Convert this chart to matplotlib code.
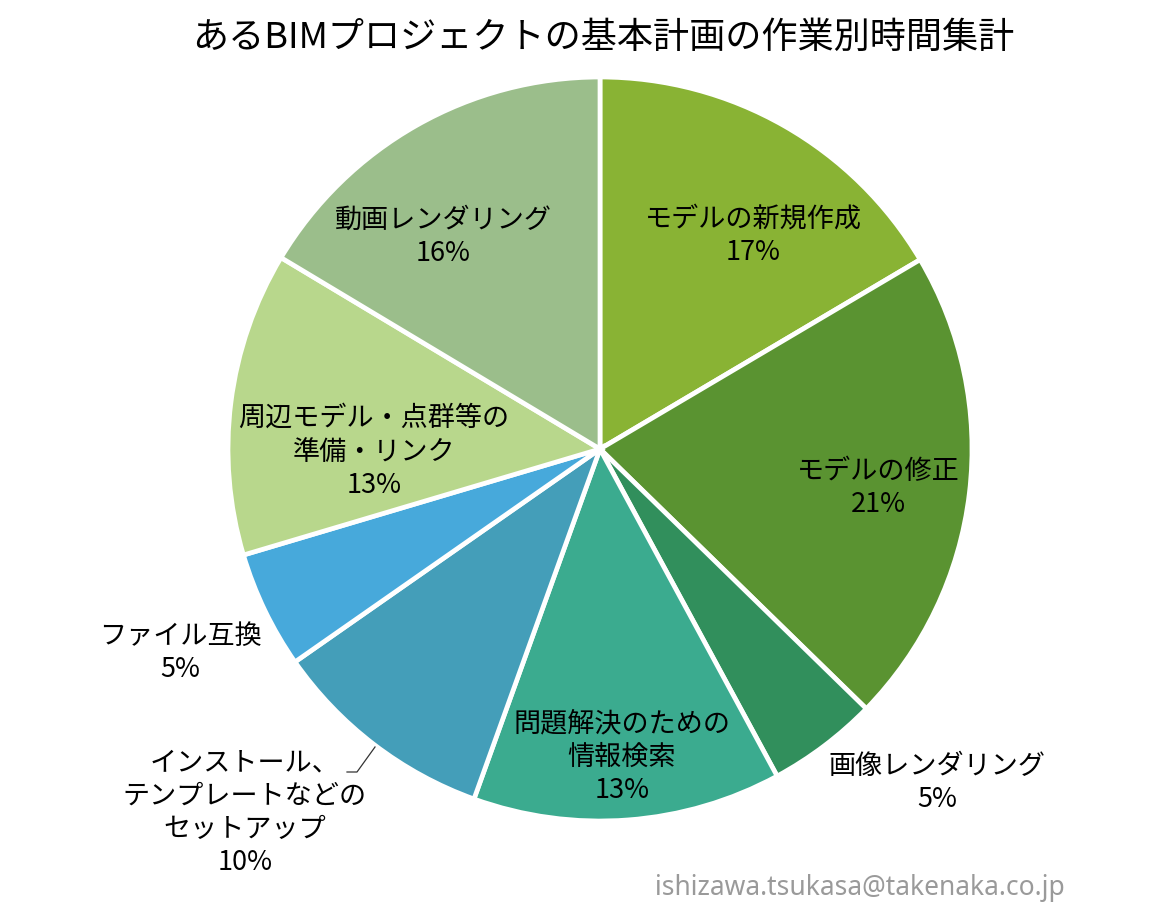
import matplotlib
matplotlib.use("Agg")
import matplotlib.pyplot as plt
import numpy as np

plt.rcParams['font.family'] = ['Noto Sans CJK JP', 'DejaVu Sans']

# ---- data ----
categories = ['モデルの新規作成', 'モデルの修正', '画像レンダリング',
              '問題解決のための\n情報検索',
              'インストール、\nテンプレートなどの\nセットアップ',
              'ファイル互換', '周辺モデル・点群等の\n準備・リンク', '動画レンダリング']
values = [16.5, 20.8, 4.8, 13.4, 9.8, 5.1, 13.2, 16.4]
pct_labels = ['17%', '21%', '5%', '13%', '10%', '5%', '13%', '16%']
colors = ['#89B334', '#5A9331', '#318F5C', '#3BAB8F', '#449EB9', '#47A9DB',
          '#B8D78C', '#9BBE8B']
title = 'あるBIMプロジェクトの基本計画の作業別時間集計'
watermark = 'ishizawa.tsukasa@takenaka.co.jp'

# ---- layout (pixels, figure 1169x911) ----
W, H = 1169, 911
cx, cy, R = 600, 449, 372
label_pos = [(753, 236), (878, 488), (937, 783), (622, 757), (245, 813),
             (180, 653), (374, 452), (443, 237)]

fig = plt.figure(figsize=(W / 100, H / 100), dpi=100)
ax = fig.add_axes([0, 0, 1, 1])

ax.pie(values, colors=colors, startangle=90, counterclock=False,
       center=(cx, H - cy), radius=R, frame=True,
       wedgeprops=dict(edgecolor='white', linewidth=3.4))
ax.set_xlim(0, W)
ax.set_ylim(0, H)
ax.set_aspect('equal')
ax.axis('off')

for cat, pct, (x, y) in zip(categories, pct_labels, label_pos):
    ax.text(x, H - y, cat + '\n' + pct, ha='center', va='center',
            fontsize=19.5, linespacing=1.3, color='black')

# leader line for the setup label
ax.plot([375, 357, 347], [H - 747, H - 772, H - 772], color='#333333', lw=0.9)

fig.text(603 / W, 1 - 38 / H, title, ha='center', va='center', fontsize=26)
fig.text(1065 / W, 1 - 888 / H, watermark, ha='right', va='center',
         fontsize=19, color='#9a9a9a', family=['Noto Sans', 'DejaVu Sans'])

fig.savefig('out.png', dpi=100)
